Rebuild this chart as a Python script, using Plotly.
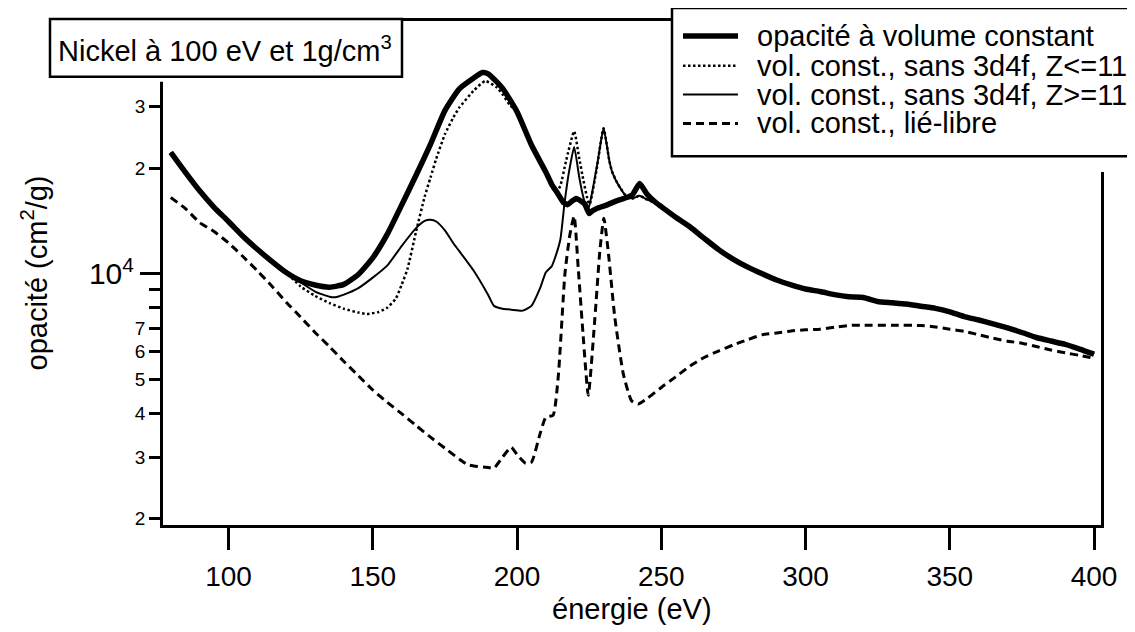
import plotly.graph_objects as go

# énergie (eV) / opacité (cm2/g) lues sur la figure
# debut commun aux trois courbes "volume constant"
e_head = [80, 85, 90, 95, 100, 105, 110, 115, 120]
op_head = [22200, 19500, 17250, 15480, 14100, 12800, 11750, 10850, 10080]

# fin commune (au-dela de 250 eV les trois courbes se confondent)
e_tail = [250, 255, 260, 265, 270, 275, 280, 285, 290, 295, 300, 305, 310, 315, 320,
          325, 330, 335, 340, 345, 350, 355, 360, 365, 370, 375, 380, 385, 390, 395, 400]
op_tail = [15550, 14500, 13600, 12600, 11700, 11000, 10450, 10000, 9600, 9300, 9050,
           8900, 8720, 8600, 8560, 8340, 8270, 8200, 8080, 7970, 7790, 7550, 7380, 7200,
           7010, 6800, 6580, 6430, 6290, 6100, 5900]

# opacité à volume constant
e_tot = [125, 130, 135, 140, 145, 150, 155, 160, 165, 170, 175, 180, 185, 188, 190, 195,
         200, 205, 210, 212, 214, 216, 217.5, 219, 220.5, 222, 223.5, 225, 226, 228, 231,
         235, 238, 240, 242.5, 245, 248]
op_tot = [9550, 9290, 9160, 9330, 9950, 11100, 12950, 15700, 19100, 23400, 29200, 33700,
          36200, 37500, 37200, 33800, 29000, 23300, 19500, 18000, 17000, 16000, 15750,
          16100, 16400, 16150, 15800, 14860, 15100, 15400, 15700, 16200, 16500, 16800,
          18100, 16900, 16000]

# sans 3d4f, Z<=11
e_le = [125, 130, 135, 140, 145, 148, 152, 155, 158, 160, 162, 165, 168, 170, 172, 175,
        178, 180, 185, 189, 193, 195, 197.5, 200, 205, 210, 212, 214, 215, 217, 219.8,
        221.5, 223, 224.7, 225.2, 227.6, 230, 232, 233, 235, 238, 240, 242.5, 245, 248]
op_le = [9200, 8650, 8250, 7950, 7750, 7680, 7780, 8000, 8500, 9300, 10300, 13200, 16600,
         18800, 21300, 25000, 28000, 29800, 33300, 35500, 34000, 32500, 30300, 29000,
         23300, 19500, 18000, 17300, 17800, 21000, 25500, 21500, 18500, 16000, 15800,
         19900, 26000, 21000, 19500, 18000, 16600, 16400, 16700, 16300, 15900]

# sans 3d4f, Z>=11
e_ge = [125, 130, 135, 137, 140, 145, 150, 155, 160, 165, 168, 170, 172, 175, 178, 180,
        185, 190, 192, 195, 198, 202, 205, 208, 210, 212, 213, 215, 216.5, 218, 219.8,
        221.5, 223, 224.5, 226, 228, 230, 232, 233, 235, 238, 240, 242.5, 245, 248]
op_ge = [9450, 8900, 8600, 8570, 8720, 9100, 9750, 10550, 12000, 13500, 14150, 14250,
         14100, 13300, 12200, 11600, 10200, 8700, 8100, 7950, 7900, 7850, 8100, 9100,
         10100, 10500, 11000, 12500, 16000, 19500, 23000, 19000, 16500, 15100, 17000,
         21000, 26000, 21000, 19500, 18000, 16600, 16400, 16700, 16300, 15900]

# lié-libre
e_bf = [80, 85, 90, 95, 100, 105, 110, 115, 120, 125, 130, 135, 140, 145, 150, 155, 160,
        165, 170, 175, 180, 183, 185, 190, 192, 195, 198, 200, 203, 205, 208, 210, 212.5,
        214.3, 216.6, 218.3, 219.8, 221.2, 222.9, 224.7, 227, 228.7, 230.1, 231.6, 233.9,
        236.8, 239.7, 242, 245, 250, 255, 260, 265, 270, 275, 280, 285, 290, 295, 300,
        305, 310, 316, 320, 330, 340, 345, 350, 355, 360, 365, 370, 375, 380, 385, 390,
        395, 400]
op_bf = [16500, 15370, 14000, 13200, 12250, 11200, 10200, 9230, 8300, 7520, 6800, 6200,
         5620, 5120, 4660, 4300, 3990, 3690, 3420, 3180, 2960, 2850, 2830, 2800, 2790,
         3000, 3200, 3050, 2880, 2900, 3500, 3900, 3950, 5100, 10000, 12900, 14600, 10400,
         6700, 4500, 7500, 11600, 14400, 11600, 7500, 5200, 4340, 4250, 4400, 4740, 5080,
         5460, 5780, 6030, 6270, 6490, 6700, 6780, 6870, 6920, 6950, 7040, 7130, 7130,
         7130, 7120, 7050, 6950, 6850, 6700, 6550, 6420, 6340, 6200, 6060, 5950, 5850,
         5740]

x_ticks = [100, 150, 200, 250, 300, 350, 400]
y_ticks = [2000, 3000, 4000, 5000, 6000, 7000, 20000, 30000]
y_ticktext = ["2", "3", "4", "5", "6", "7", "2", "3"]
y_minor = [8000, 9000]

series = [
    # nom, x, y, largeur, tirets, axe
    ("vol. const., lié-libre", e_bf, op_bf, 3, "8px,5px", "y2"),
    ("vol. const., sans 3d4f, Z<=11", e_head + e_le + e_tail, op_head + op_le + op_tail, 2.5, "2.5px,2.5px", "y"),
    ("vol. const., sans 3d4f, Z>=11", e_head + e_ge + e_tail, op_head + op_ge + op_tail, 2, "solid", "y"),
    ("opacité à volume constant", e_head + e_tot + e_tail, op_head + op_tot + op_tail, 5.5, "solid", "y"),
]
legend_order = [3, 1, 2, 0]

# positions en pixels de la page (le body html a une marge de 8 px)
W, H = 1135, 632
BODY = 8
L, R, T, B = 163, 1101, 18, 525
FONT = "Liberation Sans, Arial, sans-serif"
YRANGE = [3.2833, 4.7212]


def px(x, y):
    """pixels de la page -> coordonnees 'paper'"""
    return (x - L) / (R - L), (B - y) / (B - T)


fig = go.Figure()
for name, x, y, w, dash, ax in series:
    fig.add_trace(go.Scatter(x=x, y=y, name=name, mode="lines", yaxis=ax,
                             line=dict(color="black", width=w, dash=dash,
                                       shape="spline", smoothing=0.5),
                             showlegend=False))

shapes = []
annotations = []

# cadre du titre
x0, y0 = px(50, 74)
x1, y1 = px(402, 16)
_, yw = px(0, 79)
shapes.append(dict(type="rect", xref="paper", yref="paper", x0=x0, x1=x1, y0=yw, y1=y1,
                   fillcolor="white", line=dict(width=0), layer="above"))
shapes.append(dict(type="rect", xref="paper", yref="paper", x0=x0, x1=x1, y0=y0, y1=y1,
                   fillcolor="white", line=dict(color="black", width=2.5), layer="above"))
tx, ty = px(225, 46)
annotations.append(dict(xref="paper", yref="paper", x=tx, y=ty, xanchor="center",
                        yanchor="middle", showarrow=False,
                        text="Nickel à 100 eV et 1g/cm<sup>3</sup>",
                        font=dict(size=29, color="black", family=FONT)))

# legende faite a la main
x0, y0 = px(672, 154)
x1, y1 = px(1133, 5)
_, yw = px(0, 170)
shapes.append(dict(type="rect", xref="paper", yref="paper", x0=x0, x1=x1, y0=yw, y1=y1,
                   fillcolor="white", line=dict(width=0), layer="above"))
shapes.append(dict(type="rect", xref="paper", yref="paper", x0=x0, x1=x1, y0=y0, y1=y1,
                   fillcolor="white", line=dict(color="black", width=2.5), layer="above"))
rows = [33, 63, 92, 121]
for row, i in zip(rows, legend_order):
    name, _, _, w, dash, _ = series[i]
    lx0, ly = px(683, row)
    lx1, _ = px(738, row)
    shapes.append(dict(type="line", xref="paper", yref="paper", x0=lx0, x1=lx1, y0=ly, y1=ly,
                       line=dict(color="black", width=w, dash=dash), layer="above"))
    ax_, ay_ = px(755, row)
    annotations.append(dict(xref="paper", yref="paper", x=ax_, y=ay_, xanchor="left",
                            yanchor="middle", showarrow=False, text=name,
                            font=dict(size=29, color="black", family=FONT)))

# titres des axes
ax_, ay_ = px(35, 272)
annotations.append(dict(xref="paper", yref="paper", x=ax_, y=ay_, xanchor="center",
                        yanchor="middle", showarrow=False, textangle=-90,
                        text="opacité (cm<sup>2</sup>/g)",
                        font=dict(size=29, color="black", family=FONT)))
ax_, ay_ = px(632, 610)
annotations.append(dict(xref="paper", yref="paper", x=ax_, y=ay_, xanchor="center",
                        yanchor="middle", showarrow=False, text="énergie (eV)",
                        font=dict(size=29, color="black", family=FONT)))

fig.update_layout(
    width=W - BODY, height=H - BODY, autosize=False,
    margin=dict(l=L - BODY, r=W - R, t=T - BODY, b=H - B, pad=0),
    paper_bgcolor="white", plot_bgcolor="white",
    font=dict(family=FONT, color="black"),
    showlegend=False,
    shapes=shapes, annotations=annotations,
    xaxis=dict(range=[77.3, 402.4], tickvals=x_ticks, ticks="outside", ticklen=22,
               tickwidth=2.5, tickcolor="black", showline=True, linewidth=2.5,
               linecolor="black", mirror=True, showgrid=False, zeroline=False,
               tickfont=dict(size=28, family=FONT), ticklabelstandoff=3),
    yaxis=dict(type="log", range=YRANGE, tickvals=y_ticks, ticktext=y_ticktext,
               ticks="outside", ticklen=11, tickwidth=2.5, tickcolor="black",
               minor=dict(tickmode="array", tickvals=y_minor, ticks="outside", ticklen=11,
                          tickwidth=2.5, tickcolor="black", showgrid=False),
               showline=True, linewidth=2.5, linecolor="black", mirror=True,
               showgrid=False, zeroline=False, tickfont=dict(size=19, family=FONT)),
    yaxis2=dict(type="log", range=YRANGE, overlaying="y", side="left", anchor="x",
                tickvals=[10000], ticktext=["10<sup>4</sup>"], ticks="outside", ticklen=22,
                tickwidth=2.5, tickcolor="black", showline=False, showgrid=False,
                zeroline=False, tickfont=dict(size=30, family=FONT)),
)

fig.write_html("out.html")
